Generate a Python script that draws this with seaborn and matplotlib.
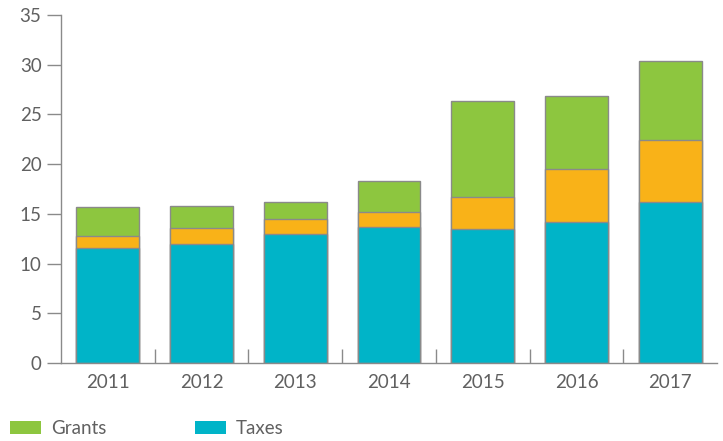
import matplotlib
matplotlib.use("Agg")
import matplotlib.pyplot as plt
import seaborn as sns
import pandas as pd
import numpy as np
from matplotlib.patches import Patch

years = ["2011", "2012", "2013", "2014", "2015", "2016", "2017"]
taxes = [11.6, 12.0, 13.0, 13.7, 13.5, 14.2, 16.2]
other = [1.2, 1.55, 1.45, 1.5, 3.15, 5.35, 6.2]
grants = [2.9, 2.2, 1.7, 3.1, 9.75, 7.3, 8.0]

c_taxes = "#00B4C8"
c_other = "#F9B218"
c_grants = "#8DC63F"
edge = "#8a8a8a"
txt = "#606060"

sns.set_theme(style="white")
plt.rcParams["font.family"] = ["Lato", "DejaVu Sans"]

df = pd.DataFrame({"year": years, "taxes": taxes, "other": other, "grants": grants})
df["lvl1"] = df["taxes"]
df["lvl2"] = df["taxes"] + df["other"]
df["lvl3"] = df["lvl2"] + df["grants"]

fig = plt.figure(figsize=(7.23, 4.41), dpi=100)
ax = fig.add_axes([61/723, 1-363/441, (717-61)/723, (363-15)/441])

for col, color in [("lvl3", c_grants), ("lvl2", c_other), ("lvl1", c_taxes)]:
    sns.barplot(data=df, x="year", y=col, color=color, width=0.67,
                edgecolor=edge, linewidth=1.0, saturation=1, ax=ax)

ax.set_xlim(-0.5, 6.5)
ax.set_ylim(0, 35)
ax.set_yticks(range(0, 36, 5))
ax.set_xlabel("")
ax.set_ylabel("")
for s in ["top", "right"]:
    ax.spines[s].set_visible(False)
for s in ["left", "bottom"]:
    ax.spines[s].set_color(edge)
    ax.spines[s].set_linewidth(1.0)

ax.tick_params(axis="y", which="major", direction="out", length=10, width=1.0,
               color=edge, labelcolor=txt, labelsize=13.5, pad=4, left=True)
ax.tick_params(axis="x", which="major", length=0, labelcolor=txt, labelsize=13.5, pad=8)
ax.set_xticks(np.arange(len(years)), years)
ax.set_xticks(np.arange(0.5, len(years) - 0.5, 1.0), minor=True)
ax.tick_params(axis="x", which="minor", direction="in", length=10, width=1.0,
               color=edge, bottom=True)

handles = [Patch(facecolor=c_grants, edgecolor="none", label="Grants"),
           Patch(facecolor=c_taxes, edgecolor="none", label="Taxes")]
leg = fig.legend(handles=handles, loc="lower left", bbox_to_anchor=(10/723, 4/441),
                 ncol=2, frameon=False, fontsize=13.5, handlelength=1.65,
                 handleheight=0.75, handletextpad=0.55, columnspacing=4.7,
                 labelcolor=txt, borderpad=0, borderaxespad=0)

fig.savefig("out.png", dpi=100)
